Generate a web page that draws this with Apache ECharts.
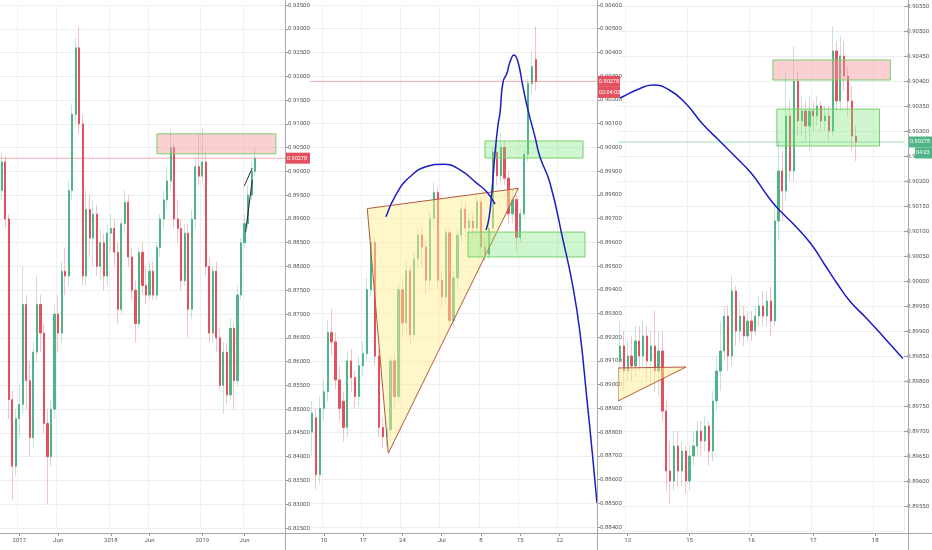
<!DOCTYPE html>
<html><head><meta charset="utf-8">
<script src="https://cdn.jsdelivr.net/npm/echarts@6/dist/echarts.min.js"></script>
<style>html,body{margin:0;padding:0;background:#fff}#c{width:932px;height:550px}</style>
</head><body><div id="c"></div>
<script>
// ---------- DATA ----------
const lastPrice = 0.90278;

// Panel 1 (two-week candles): [open, close, low, high]
const p1Candles = [
[0.8960,0.9020,0.8940,0.9040],[0.9020,0.8900,0.8880,0.9030],[0.8900,0.8520,0.8480,0.8910],[0.8520,0.8380,0.8310,0.8540],
[0.8380,0.8480,0.8360,0.8500],[0.8480,0.8510,0.8440,0.8550],[0.8510,0.8720,0.8490,0.8800],[0.8720,0.8560,0.8500,0.8740],
[0.8560,0.8440,0.8400,0.8600],[0.8440,0.8620,0.8420,0.8640],[0.8620,0.8720,0.8600,0.8780],[0.8720,0.8660,0.8620,0.8740],
[0.8660,0.8470,0.8450,0.8680],[0.8470,0.8400,0.8300,0.8500],[0.8400,0.8500,0.8380,0.8520],[0.8500,0.8700,0.8480,0.8720],
[0.8700,0.8660,0.8620,0.8740],[0.8660,0.8790,0.8640,0.8810],[0.8790,0.8780,0.8740,0.8840],[0.8780,0.8960,0.8760,0.8980],
[0.8960,0.9120,0.8940,0.9140],[0.9120,0.9260,0.9100,0.9280],[0.9260,0.9100,0.9080,0.9305],[0.9100,0.8780,0.8760,0.9120],
[0.8780,0.8920,0.8760,0.8960],[0.8920,0.8860,0.8820,0.8950],[0.8860,0.8910,0.8800,0.8940],[0.8910,0.8800,0.8780,0.8930],
[0.8800,0.8850,0.8770,0.8880],[0.8850,0.8780,0.8750,0.8870],[0.8780,0.8870,0.8760,0.8890],[0.8870,0.8880,0.8830,0.8910],
[0.8880,0.8830,0.8800,0.8900],[0.8830,0.8710,0.8680,0.8850],[0.8710,0.8890,0.8700,0.8900],[0.8890,0.8935,0.8870,0.8960],
[0.8935,0.8820,0.8800,0.8950],[0.8820,0.8750,0.8730,0.8840],[0.8750,0.8680,0.8640,0.8770],[0.8680,0.8830,0.8670,0.8840],
[0.8830,0.8760,0.8740,0.8850],[0.8760,0.8740,0.8720,0.8800],[0.8740,0.8790,0.8730,0.8810],[0.8790,0.8740,0.8730,0.8810],
[0.8740,0.8840,0.8730,0.8850],[0.8840,0.8900,0.8820,0.8910],[0.8900,0.8940,0.8880,0.8960],[0.8940,0.8980,0.8920,0.9010],
[0.8980,0.9050,0.8960,0.9090],[0.9050,0.8900,0.8880,0.9060],[0.8900,0.8880,0.8850,0.8940],[0.8880,0.8770,0.8750,0.8900],
[0.8770,0.8870,0.8760,0.8890],[0.8870,0.8710,0.8650,0.8890],[0.8710,0.8900,0.8690,0.8920],[0.8900,0.9010,0.8880,0.9030],
[0.9010,0.8990,0.8970,0.9080],[0.8990,0.9020,0.8970,0.9090],[0.9020,0.8800,0.8780,0.9040],[0.8800,0.8660,0.8640,0.8820],
[0.8660,0.8790,0.8640,0.8800],[0.8790,0.8650,0.8620,0.8810],[0.8650,0.8550,0.8540,0.8670],[0.8550,0.8620,0.8490,0.8640],
[0.8620,0.8530,0.8510,0.8640],[0.8530,0.8670,0.8520,0.8690],[0.8670,0.8560,0.8500,0.8680],[0.8560,0.8740,0.8550,0.8760],
[0.8740,0.8850,0.8730,0.8860],[0.8850,0.8890,0.8840,0.8910],[0.8890,0.8950,0.8880,0.8970],[0.8950,0.9000,0.8940,0.9020],
[0.9000,0.90278,0.8990,0.9050]
];
const p1Slots = 81;
const p1TickIdx = [5,16,31,42,57,69];
const p1TickText = ['2017','Jun','2018','Jun','2019','Jun'];
const p1YRange = [0.825, 0.935, 0.005];
const p1Zone = [44.6, 78.4, 0.9037, 0.9079];          // [x1, x2, low, high]
const p1WedgeUpper = [[69.4,0.8969],[71.7,0.9007]];
const p1WedgeLower = [[69.8,0.8872],[71.7,0.8982]];

// Panel 2 (half-day candles)
const p2Candles = [
[0.8880,0.8888,0.8870,0.8893],[0.8886,0.8862,0.8856,0.8890],[0.8862,0.8890,0.8858,0.8895],[0.8890,0.8897,0.8885,0.8902],
[0.8897,0.8922,0.8893,0.8927],[0.8922,0.8918,0.8912,0.8932],[0.8918,0.8902,0.8898,0.8922],[0.8902,0.8890,0.8885,0.8908],
[0.8893,0.8882,0.8876,0.8897],[0.8882,0.8910,0.8878,0.8914],[0.8910,0.8903,0.8897,0.8915],[0.8903,0.8895,0.8890,0.8906],
[0.8895,0.8908,0.8891,0.8912],[0.8908,0.8913,0.8904,0.8918],[0.8913,0.8940,0.8910,0.8945],[0.8940,0.8960,0.8937,0.8963],
[0.8960,0.8912,0.8908,0.8962],[0.8912,0.8882,0.8878,0.8915],[0.8882,0.8878,0.8873,0.8886],[0.8878,0.8881,0.8874,0.8885],
[0.8881,0.8910,0.8878,0.8912],[0.8910,0.8895,0.8890,0.8913],[0.8895,0.8940,0.8892,0.8943],[0.8940,0.8926,0.8920,0.8945],
[0.8926,0.8948,0.8922,0.8952],[0.8948,0.8921,0.8917,0.8950],[0.8921,0.8953,0.8919,0.8956],[0.8953,0.8963,0.8949,0.8966],
[0.8963,0.8958,0.8950,0.8967],[0.8958,0.8944,0.8938,0.8961],[0.8944,0.8970,0.8940,0.8973],[0.8970,0.8981,0.8966,0.8985],
[0.8981,0.8944,0.8940,0.8983],[0.8944,0.8937,0.8932,0.8948],[0.8937,0.8964,0.8934,0.8966],[0.8964,0.8927,0.8924,0.8966],
[0.8927,0.8945,0.8924,0.8948],[0.8945,0.8963,0.8941,0.8966],[0.8963,0.8974,0.8960,0.8978],[0.8974,0.8966,0.8962,0.8977],
[0.8966,0.8969,0.8962,0.8972],[0.8969,0.8966,0.8962,0.8972],[0.8966,0.8977,0.8963,0.8980],[0.8977,0.8958,0.8955,0.8979],
[0.8958,0.8955,0.8952,0.8962],[0.8955,0.8966,0.8953,0.8968],[0.8966,0.8998,0.8964,0.9000],[0.8998,0.8988,0.8984,0.9001],
[0.8988,0.9000,0.8985,0.9006],[0.9000,0.8987,0.8984,0.9003],[0.8987,0.8972,0.8968,0.8990],[0.8972,0.8978,0.8968,0.8982],
[0.8978,0.8962,0.8956,0.8980],[0.8962,0.8972,0.8960,0.8974],[0.8972,0.8997,0.8970,0.8999],[0.8997,0.9027,0.8994,0.9029],
[0.9027,0.9034,0.9022,0.9040],[0.9037,0.90278,0.9024,0.9051]
];
const p2Slots = 73;
const p2TickIdx = [3,13,23,33,43,53,63];
const p2TickText = ['10','17','24','Jul','8','15','22'];
const p2YRange = [0.884, 0.906, 0.001];
const p2Triangle = [[14.57,0.89742],[19.92,0.88711],[52.98,0.89827]];
const p2Arc = [[19.33,0.89708],[22.05,0.89806],[25.43,0.89876],[29.68,0.89919],[33.9,0.89929],[38.15,0.89905],[42.4,0.89849],[44.94,0.89813],[47.06,0.89761]];
const p2Wave = [[44.77,0.89652],[45.53,0.89702],[46.29,0.89820],[47.06,0.89976],[47.82,0.90094],[48.33,0.90145],[49.09,0.90275],[50.11,0.90313],[50.87,0.90360],[51.89,0.90389],[52.91,0.90360],[54.18,0.90254],[55.45,0.90157],[57.23,0.90044],[58.5,0.89959],[61.04,0.89850],[64.35,0.89610],[66.9,0.89411],[68.68,0.89218],[70.46,0.88935],[71.73,0.88725],[73.0,0.88501]];
const p2ZoneUpper = [44.51, 69.44, 0.89955, 0.90027];
const p2ZoneLower = [40.19, 69.95, 0.89538, 0.89643];
const p2Countdown = '02:04:03';

// Panel 3 (intraday candles)
const p3Candles = [
[0.8984,0.8987,0.8979,0.8992],[0.8987,0.8982,0.8978,0.8990],[0.8982,0.8985,0.8980,0.8988],[0.8985,0.8983,0.8980,0.8989],
[0.8983,0.8988,0.8981,0.8991],[0.8988,0.8985,0.8982,0.8991],[0.8985,0.8989,0.8983,0.8992],[0.8989,0.8984,0.8980,0.8991],
[0.8984,0.8987,0.8979,0.8990],[0.8987,0.8982,0.8978,0.8994],[0.8982,0.8986,0.8977,0.8990],[0.8986,0.8974,0.8972,0.8990],
[0.8974,0.8962,0.8958,0.8976],[0.8962,0.8960,0.89555,0.8968],[0.8960,0.8967,0.8958,0.8970],[0.8967,0.8962,0.8959,0.8970],
[0.8962,0.8966,0.8959,0.8968],[0.8966,0.8960,0.89575,0.8967],[0.8960,0.8965,0.8958,0.8967],[0.8965,0.8967,0.8963,0.8970],
[0.8967,0.8970,0.8965,0.8972],[0.8970,0.8968,0.8965,0.8972],[0.8968,0.8971,0.8966,0.8973],[0.8971,0.8966,0.8963,0.8972],
[0.8966,0.8976,0.8964,0.8978],[0.8976,0.8982,0.8974,0.8985],[0.8982,0.8986,0.8978,0.8992],[0.8986,0.8993,0.8984,0.8995],
[0.8993,0.8985,0.8982,0.8995],[0.8985,0.8998,0.8983,0.9001],[0.8998,0.8990,0.8987,0.8999],[0.8990,0.8993,0.8988,0.8996],
[0.8993,0.8989,0.8987,0.8995],[0.8989,0.8992,0.8988,0.8994],[0.8992,0.8990,0.8988,0.8994],[0.8990,0.8993,0.8989,0.8995],
[0.8993,0.8995,0.8991,0.8997],[0.8995,0.8993,0.8991,0.8998],[0.8993,0.8996,0.8991,0.8998],[0.8996,0.8992,0.8989,0.8999],
[0.8992,0.9012,0.8991,0.9015],[0.9012,0.9022,0.9008,0.9028],[0.9022,0.9018,0.9012,0.9026],[0.9018,0.9033,0.9016,0.9042],
[0.9033,0.9022,0.9020,0.9036],[0.9022,0.9040,0.9020,0.9047],[0.9040,0.9032,0.9029,0.9042],[0.9032,0.9034,0.9029,0.9037],
[0.9034,0.9031,0.9028,0.9036],[0.9031,0.9034,0.9026,0.9037],[0.9034,0.9033,0.9030,0.9036],[0.9033,0.9035,0.9031,0.9037],
[0.9035,0.9032,0.9030,0.9036],[0.9032,0.9033,0.9030,0.9035],[0.9033,0.9030,0.9028,0.9035],[0.9030,0.9046,0.9029,0.9051],
[0.9046,0.9036,0.9034,0.9048],[0.9036,0.9045,0.9034,0.9049],[0.9045,0.9041,0.9038,0.9048],[0.9041,0.9036,0.9033,0.9043],
[0.9036,0.9029,0.9026,0.9039],[0.9029,0.90278,0.9024,0.9031]
];
const p3Slots = 74;
const p3TickIdx = [2,18,34,50,66];
const p3TickText = ['12','15','16','17','18'];
const p3YRange = [0.895, 0.9055, 0.0005];
const p3Triangle = [[0,0.89826],[17.6,0.89828],[0,0.8976]];
const p3Curve = [[0.5,0.90366],[1.35,0.90369],[4.77,0.90382],[9.01,0.90392],[13.27,0.90382],[17.53,0.90355],[21.77,0.90315],[26.03,0.90282],[30.29,0.90249],[34.52,0.90215],[38.79,0.90169],[41.34,0.90145],[45.6,0.90112],[49.83,0.90075],[53.25,0.90035],[56.65,0.89995],[60.04,0.89959],[64.3,0.89925],[68.56,0.89889],[73.67,0.89845]];
const p3ZoneUpper = [40.06, 70.43, 0.90402, 0.90442];
const p3ZoneLower = [41.08, 67.62, 0.90270, 0.90344];
const p3Countdown = '04:03';

// ---------- STYLE / LAYOUT ----------
const UP = '#4fb487', DOWN = '#e5505e';
const UP_W = 'rgba(79,180,135,0.35)', DOWN_W = 'rgba(229,80,94,0.35)';
const FONT = 'Roboto';
const panels = [
  {candles:p1Candles, slots:p1Slots, ticks:p1TickIdx, text:p1TickText, yr:p1YRange, grid:{left:0, top:5, width:285, height:523}, offset:5, axisX:285, priceColor:'#f4a8b0', labelColor:'#e5505e'},
  {candles:p2Candles, slots:p2Slots, ticks:p2TickIdx, text:p2TickText, yr:p2YRange, grid:{left:310, top:5, width:287, height:522}, offset:6, axisX:597, priceColor:'#f4a8b0', labelColor:'#e5505e'},
  {candles:p3Candles, slots:p3Slots, ticks:p3TickIdx, text:p3TickText, yr:p3YRange, grid:{left:618, top:6, width:290, height:525}, offset:2, axisX:908, priceColor:'#9fdcb9', labelColor:'#4fb487'}
];

const grids = [], xAxes = [], yAxes = [], series = [];
panels.forEach((p, k) => {
  grids.push(Object.assign({containLabel:false}, p.grid));
  const cats = Array.from({length:p.slots}, (_, i) => 'c' + i);
  const isTick = (i) => p.ticks.indexOf(i) >= 0;
  xAxes.push({
    type:'category', gridIndex:k, data:cats, boundaryGap:true, offset:p.offset,
    axisLine:{show:false, onZero:false},
    axisTick:{show:true, interval:isTick, alignWithLabel:true, length:3, lineStyle:{color:'#999'}},
    axisLabel:{interval:isTick, formatter:(v, i) => p.text[p.ticks.indexOf(i)], fontSize:6, color:'#555', margin:4, fontFamily:FONT},
    splitLine:{show:true, interval:isTick, lineStyle:{color:'#f0f0f0'}}
  });
  xAxes.push({type:'value', gridIndex:k, min:0, max:p.slots, show:false,
    axisLine:{show:false, onZero:false}, axisTick:{show:false}, axisLabel:{show:false}, splitLine:{show:false}});
  yAxes.push({
    type:'value', gridIndex:k, position:'right', min:p.yr[0], max:p.yr[1], interval:p.yr[2],
    axisLine:{show:false, onZero:false},
    axisTick:{show:true, length:3, lineStyle:{color:'#999'}},
    axisLabel:{fontSize:6, color:'#555', margin:3, fontFamily:FONT, formatter:v => v.toFixed(5), showMinLabel: k !== 2},
    splitLine:{show:true, lineStyle:{color:'#eeeeee'}}
  });
  // last-price line
  series.push({type:'line', xAxisIndex:2*k+1, yAxisIndex:k, data:[[0, lastPrice],[p.slots, lastPrice]], symbol:'none', silent:true, z:1,
    lineStyle:{color:p.priceColor, width:1}});
  // wicks (faint)
  series.push({
    type:'candlestick', xAxisIndex:2*k, yAxisIndex:k, data:p.candles, barWidth:1, silent:true, z:2,
    itemStyle:{color:UP_W, color0:DOWN_W, borderColor:UP_W, borderColor0:DOWN_W, borderWidth:1}
  });
  // bodies
  series.push({
    type:'candlestick', xAxisIndex:2*k, yAxisIndex:k, silent:true, z:3, barWidth:'45%',
    data:p.candles.map(c => [c[0], c[1], Math.min(c[0], c[1]), Math.max(c[0], c[1])]),
    itemStyle:{color:UP, color0:DOWN, borderColor:UP, borderColor0:DOWN, borderWidth:1}
  });
});

function rectSeries(k, box, fill, stroke) {
  return {type:'custom', xAxisIndex:2*k+1, yAxisIndex:k, data:[box], encode:{x:[0,1], y:[2,3]}, silent:true, z:5,
    renderItem:(params, api) => {
      const a = api.coord([api.value(0), api.value(3)]);
      const b = api.coord([api.value(1), api.value(2)]);
      return {type:'rect', shape:{x:a[0], y:a[1], width:b[0]-a[0], height:b[1]-a[1]}, style:{fill:fill, stroke:stroke, lineWidth:1}};
    }};
}
function polySeries(k, pts, fill, stroke) {
  return {type:'custom', xAxisIndex:2*k+1, yAxisIndex:k, data:pts, silent:true, z:4, clip:true,
    renderItem:(params, api) => params.dataIndex === 0 ?
      {type:'polygon', shape:{points:pts.map(q => api.coord(q))}, style:{fill:fill, stroke:stroke, lineWidth:1}} : null};
}
function lineSeries(k, pts, color, width) {
  return {type:'line', xAxisIndex:2*k+1, yAxisIndex:k, data:pts, symbol:'none', smooth:true, silent:true, z:6, clip:true,
    lineStyle:{color:color, width:width}};
}
const PINK_F = 'rgba(246,150,158,0.45)', GREEN_S = '#79cf6e', GREEN_F = 'rgba(120,228,120,0.35)';
const YEL_F = 'rgba(255,240,150,0.5)', TRI_S = '#b4583f', BLUE = '#1c1cc6';

series.push(rectSeries(0, p1Zone, PINK_F, GREEN_S));
series.push(lineSeries(0, p1WedgeUpper, '#222', 1));
series.push(lineSeries(0, p1WedgeLower, '#222', 1));

series.push(polySeries(1, p2Triangle, YEL_F, TRI_S));
series.push(rectSeries(1, p2ZoneUpper, GREEN_F, GREEN_S));
series.push(rectSeries(1, p2ZoneLower, GREEN_F, GREEN_S));
series.push(lineSeries(1, p2Arc, BLUE, 1.5));
series.push(lineSeries(1, p2Wave, BLUE, 1.5));

series.push(polySeries(2, p3Triangle, YEL_F, TRI_S));
series.push(rectSeries(2, p3ZoneUpper, PINK_F, GREEN_S));
series.push(rectSeries(2, p3ZoneLower, GREEN_F, GREEN_S));
series.push(lineSeries(2, p3Curve, BLUE, 1.5));

const chart = echarts.init(document.getElementById('c'));
chart.setOption({animation:false, backgroundColor:'#fff', grid:grids, xAxis:xAxes, yAxis:yAxes, series:series});

// axis frame lines and last-price labels
const gfx = [];
panels.forEach(p => gfx.push({type:'line', z:50, shape:{x1:p.axisX+0.5, y1:0, x2:p.axisX+0.5, y2:550}, style:{stroke:'#a8a8a8', lineWidth:1}}));
gfx.push({type:'line', z:50, shape:{x1:0, y1:533.5, x2:932, y2:533.5}, style:{stroke:'#a8a8a8', lineWidth:1}});
const countdowns = [null, p2Countdown, p3Countdown];
panels.forEach((p, k) => {
  const y = chart.convertToPixel({yAxisIndex:k}, lastPrice);
  const w = (k === 0 ? 310 : (k === 1 ? 620 : 932)) - p.axisX - 1;
  gfx.push({type:'rect', z:60, shape:{x:p.axisX+1, y:y-5.5, width:w, height:11}, style:{fill:p.labelColor}});
  gfx.push({type:'text', z:61, x:p.axisX+2, y:y, style:{text:lastPrice.toFixed(5), fill:'#fff', font:'5.5px ' + FONT, textVerticalAlign:'middle'}});
  if (countdowns[k]) {
    const bx = k === 2 ? p.axisX + 7 : p.axisX + 1;
    const bw = k === 2 ? w - 6 : w;
    gfx.push({type:'rect', z:60, shape:{x:bx, y:y+5.5, width:bw, height:11}, style:{fill:p.labelColor}});
    gfx.push({type:'text', z:61, x:bx+1, y:y+11, style:{text:countdowns[k], fill:'#fff', font:'5.5px ' + FONT, textVerticalAlign:'middle'}});
  }
});
chart.setOption({graphic:gfx});
</script></body></html>
